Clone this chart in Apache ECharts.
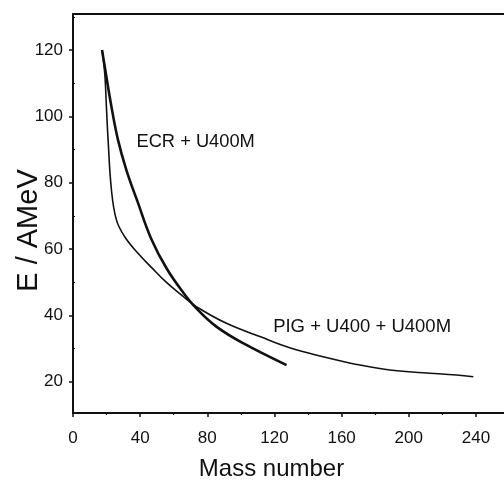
<!DOCTYPE html>
<html>
<head>
<meta charset="utf-8">
<script src="https://cdn.jsdelivr.net/npm/echarts@6/dist/echarts.min.js"></script>
<style>
  html, body { margin: 0; padding: 0; background: #ffffff; }
  #chart { width: 504px; height: 481px; }
</style>
</head>
<body>
<div id="chart"></div>
<script>
// ---- data ----
var ecrMass   = [17.3, 18.9, 22.9, 26.8, 31.8, 38.5, 46.5, 55.7, 65.6, 73.5, 85.4, 101.3, 127.2];
var ecrEnergy = [120, 115, 102.9, 92.9, 83.8, 74.2, 63.2, 54.2, 46.9, 42.1, 36.6, 31.6, 25.0];

var pigMass   = [17.3, 18.9, 19.9, 20.9, 22.9, 25.9, 30.8, 38.7, 47.0, 55.5, 65.6, 73.5, 91.4, 111.3, 129.1, 149.0, 168.9, 188.7, 208.6, 228.5, 238.4];
var pigEnergy = [120, 113, 102.9, 92.9, 77.8, 68.7, 63.7, 58.7, 54.3, 50.0, 45.7, 42.6, 37.6, 33.6, 30.2, 27.5, 25.2, 23.5, 22.7, 22.0, 21.5];

var xTickLabels = [0, 40, 80, 120, 160, 200, 240];
var xMinorTicks = [20, 60, 100, 140, 180, 220];
var yTickLabels = [20, 40, 60, 80, 100, 120];
var yMinorTicks = [30, 50, 70, 90, 110, 130];

var annoText   = ['ECR + U400M', 'PIG + U400 + U400M'];
var annoMass   = [37.8, 119.2];
var annoEnergy = [92.4, 36.4];

var xTitle = 'Mass number';
var yTitle = 'E / AMeV';

function pairs(xs, ys) { return xs.map(function (x, i) { return [x, ys[i]]; }); }

var FONT = '"Liberation Sans", Arial, Helvetica, sans-serif';
var INK = '#111111';
var X_MIN = 0, X_MAX = 256.7, Y_MIN = 10.56, Y_MAX = 130.85;

var chart = echarts.init(document.getElementById('chart'), null, { renderer: 'canvas' });

var option = {
  backgroundColor: '#ffffff',
  animation: false,
  grid: { left: 73, right: 0, top: 14, bottom: 68, containLabel: false, outerBoundsMode: 'none' },
  xAxis: [
    {
      type: 'value', min: X_MIN, max: X_MAX, position: 'bottom',
      axisLine: { show: true, lineStyle: { color: INK, width: 2 } },
      axisTick: { show: true, customValues: xTickLabels, length: 4, inside: false, lineStyle: { color: INK, width: 1.5 } },
      axisLabel: { show: true, customValues: xTickLabels, margin: 17, fontSize: 17, color: INK, fontFamily: FONT },
      splitLine: { show: false },
      name: xTitle, nameLocation: 'middle', nameGap: 44, nameMoveOverlap: false,
      nameTextStyle: { fontSize: 24, color: INK, fontFamily: FONT, padding: [0, 34, 0, 0] }
    },
    {
      type: 'value', min: X_MIN, max: X_MAX, position: 'bottom', offset: 0,
      axisLine: { show: false },
      axisTick: { show: true, customValues: xMinorTicks, length: 2, inside: false, lineStyle: { color: INK, width: 1.2 } },
      axisLabel: { show: false },
      splitLine: { show: false }
    },
    {
      type: 'value', min: X_MIN, max: X_MAX, position: 'top',
      axisLine: { show: true, lineStyle: { color: INK, width: 2 } },
      axisTick: { show: false }, axisLabel: { show: false }, splitLine: { show: false }
    }
  ],
  yAxis: [
    {
      type: 'value', min: Y_MIN, max: Y_MAX, position: 'left',
      axisLine: { show: true, lineStyle: { color: INK, width: 2 } },
      axisTick: { show: true, customValues: yTickLabels, length: 4, inside: false, lineStyle: { color: INK, width: 1.5 } },
      axisLabel: { show: true, customValues: yTickLabels, margin: 10, fontSize: 17, color: INK, fontFamily: FONT },
      splitLine: { show: false },
      name: yTitle, nameLocation: 'middle', nameGap: 30, nameRotate: 90, nameMoveOverlap: false,
      nameTextStyle: { fontSize: 29, color: INK, fontFamily: FONT, padding: [0, 34, 0, 0] }
    },
    {
      type: 'value', min: Y_MIN, max: Y_MAX, position: 'left', offset: 0,
      axisLine: { show: false },
      axisTick: { show: true, customValues: yMinorTicks, length: 2, inside: true, lineStyle: { color: INK, width: 1.2 } },
      axisLabel: { show: false },
      splitLine: { show: false }
    }
  ],
  series: [
    {
      name: 'ECR + U400M', type: 'line', xAxisIndex: 0, yAxisIndex: 0,
      data: pairs(ecrMass, ecrEnergy),
      showSymbol: false, smooth: 0.4,
      lineStyle: { color: INK, width: 2.6 }
    },
    {
      name: 'PIG + U400 + U400M', type: 'line', xAxisIndex: 0, yAxisIndex: 0,
      data: pairs(pigMass, pigEnergy),
      showSymbol: false, smooth: 0.4,
      lineStyle: { color: INK, width: 1.6 }
    }
  ]
};

chart.setOption(option);

var texts = annoText.map(function (t, i) {
  var p = chart.convertToPixel({ xAxisIndex: 0, yAxisIndex: 0 }, [annoMass[i], annoEnergy[i]]);
  return {
    type: 'text', x: p[0], y: p[1], silent: true,
    style: { text: t, fill: INK, font: (i === 0 ? '18.3px ' : '18.5px ') + FONT, align: 'left', verticalAlign: 'middle' }
  };
});
chart.setOption({ graphic: texts });
</script>
</body>
</html>
